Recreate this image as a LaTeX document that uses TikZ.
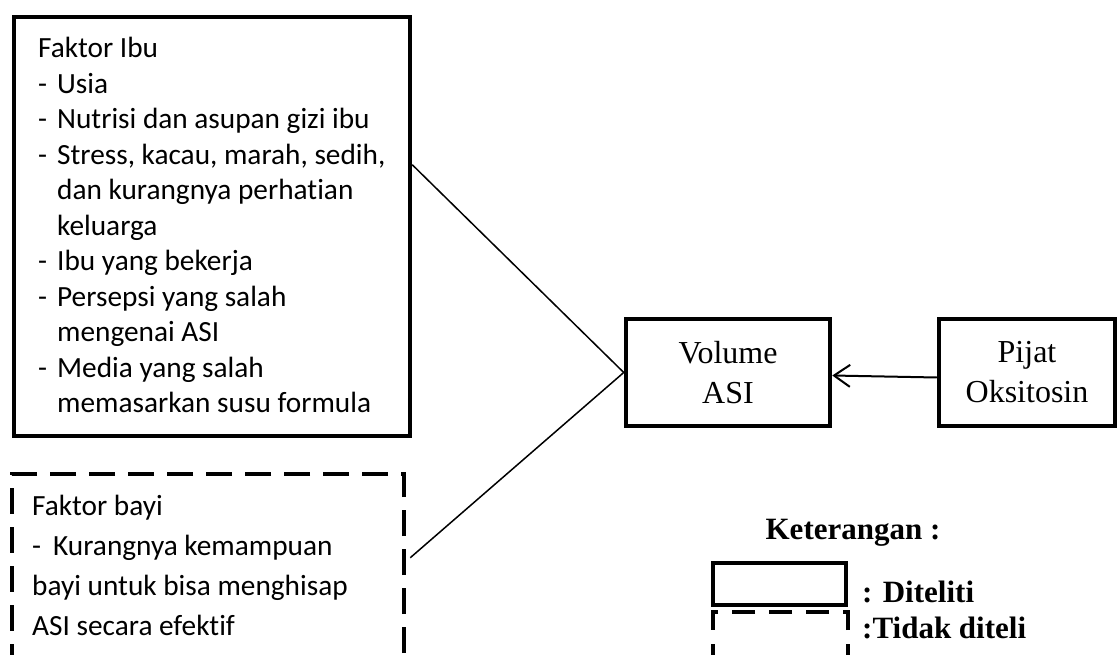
\documentclass[tikz,border=0pt]{standalone}
\usepackage{fontspec}
\setmainfont{Liberation Serif}
\newfontfamily\calibri[Ligatures=NoCommon]{Carlito}
\usetikzlibrary{arrows.meta,calc}
\tikzset{
  solidbox/.style={draw=black, line width=4.5pt, rectangle, inner sep=0pt},
  dashbox/.style={draw=black, line width=4.5pt, rectangle, inner sep=0pt, dash pattern=on 26pt off 13pt},
  legdash/.style={draw=black, line width=4.5pt, rectangle, inner sep=0pt, dash pattern=on 23pt off 14pt},
  link/.style={draw=black, line width=1.5pt},
  arr/.style={draw=black, line width=2pt, -{Straight Barb[length=16pt,width=22pt,line width=2pt]}},
  calitext/.style={inner sep=0pt, anchor=base west, font=\calibri},
  timestext/.style={align=center, font=\fontsize{32}{40}\selectfont},
  legtext/.style={inner sep=0pt, font=\fontsize{31}{38}\selectfont\bfseries}
}
\begin{document}
\begin{tikzpicture}[x=1pt, y=-1pt]
\useasboundingbox (0,0) rectangle (1117,655);
\clip (0,0) rectangle (1117,655);
\fill[white] (0,0) rectangle (1117,655);

% boxes
\node[solidbox, minimum width=396pt, minimum height=419pt] (ibu) at (212,226.5) {};
\node[dashbox, minimum width=392pt, minimum height=216pt] (bayi) at (208,582) {};
\node[solidbox, minimum width=204pt, minimum height=107pt, timestext] (vol) at (728,372.5) {Volume\\ASI};
\node[solidbox, minimum width=176pt, minimum height=107pt, timestext] (pijat) at (1027,372.5) {Pijat\\Oksitosin};

% texts of left boxes
\node[calitext] (ibutext) at (38,58) {\fontsize{29.3}{35.5}\selectfont
\begin{tabular}[t]{@{}l@{\hspace{10pt}}l@{}}
\multicolumn{2}{@{}l@{}}{Faktor Ibu}\\
-& Usia\\
-& Nutrisi dan asupan gizi ibu\\
-& Stress, kacau, marah, sedih,\\
 & dan kurangnya perhatian\\
 & keluarga\\
-& Ibu yang bekerja\\
-& Persepsi yang salah\\
 & mengenai ASI\\
-& Media yang salah\\
 & memasarkan susu formula
\end{tabular}};

\node[calitext] (bayitext) at (32,515) {\fontsize{29.3}{40}\selectfont
\begin{tabular}[t]{@{}l@{}}
Faktor bayi\\
-\hspace{12pt}Kurangnya kemampuan\\
bayi untuk bisa menghisap\\
ASI secara efektif
\end{tabular}};

% connectors
\coordinate (ibuout) at ($(ibu.north east)+(0,150)$);
\coordinate (bayiout) at ($(bayi.north east)+(4,86)$);
\draw[link] (ibuout) -- (vol.west);
\draw[link] (bayiout) -- (vol.west);
\draw[arr] ($(pijat.west)+(0,5)$) -- ($(vol.east)+(0,3)$);

% legend
\node[legtext, anchor=base] (ket) at (853,539) {Keterangan :};
\node[solidbox, minimum width=133pt, minimum height=42pt] (legsolid) at (779.5,584) {};
\node[legdash, minimum width=135pt, minimum height=68pt] (legdashed) at (780.5,646) {};
\node[legtext, anchor=base west] (lt1) at (862,602) {: Diteliti};
\node[legtext, anchor=base west] (lt2) at (862,638) {:Tidak diteli};
\end{tikzpicture}
\end{document}
